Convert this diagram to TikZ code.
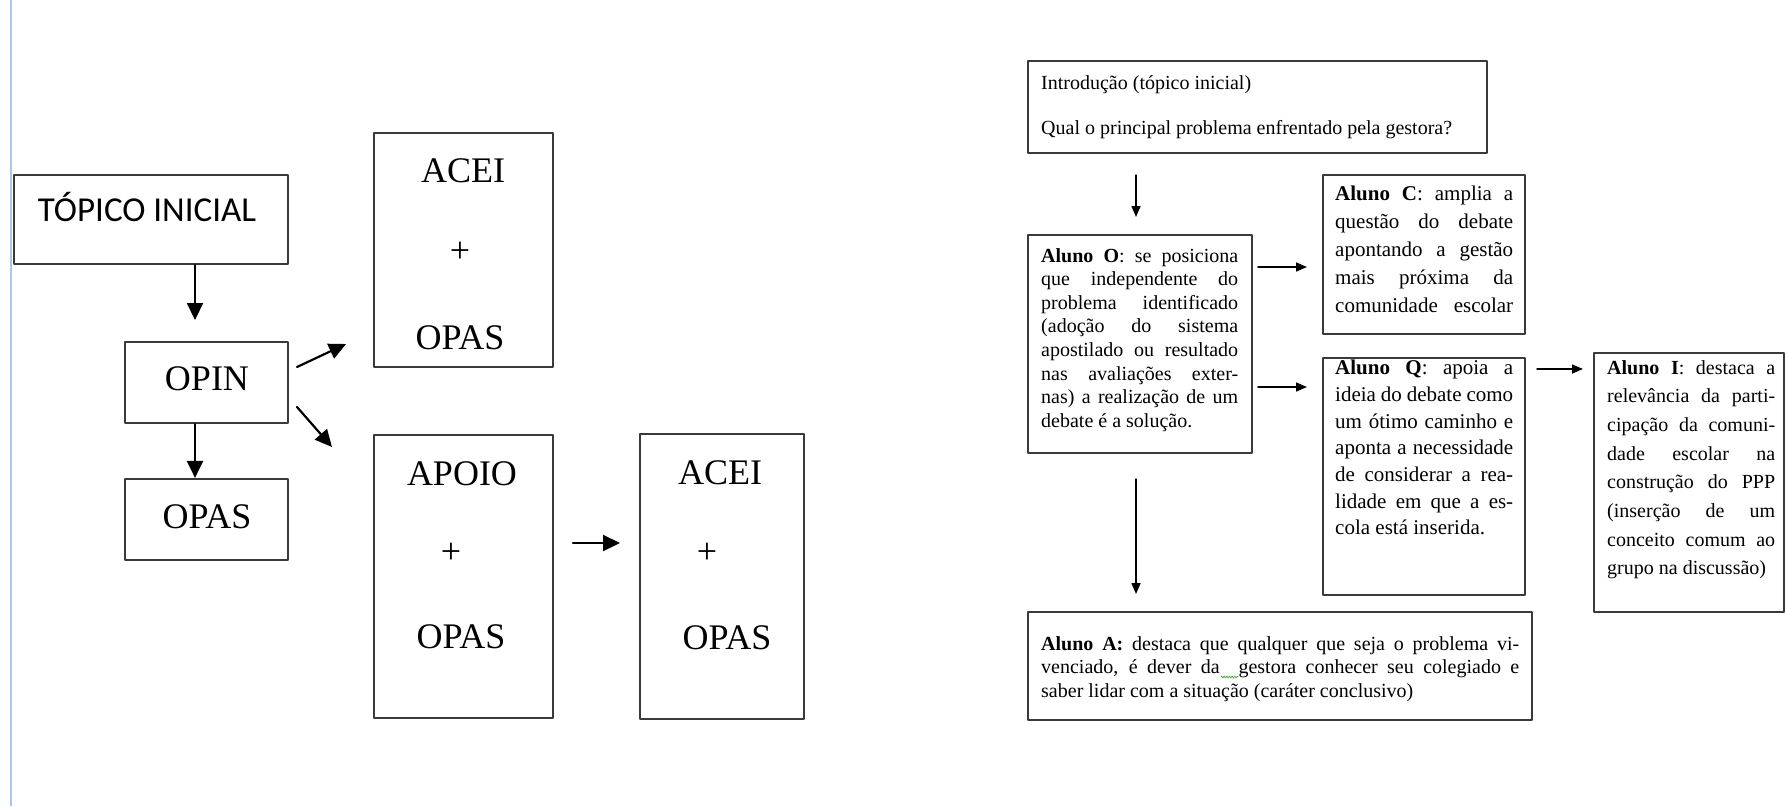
\documentclass[tikz,border=0pt]{standalone}
\usepackage{fontspec}
\setmainfont{Liberation Serif}
\newfontfamily\calibri{Carlito}
\usepackage{tikz}
\usetikzlibrary{arrows.meta}
\usetikzlibrary{decorations.pathmorphing}
\definecolor{azul}{RGB}{168,200,240}
\definecolor{contorno}{RGB}{58,58,58}
\definecolor{verde}{RGB}{70,170,70}
\hyphenpenalty=10000

\begin{document}
\begin{tikzpicture}
    [line cap=round,line join=round,x=1pt,y=-1pt,
     caixa/.style={draw=contorno,line width=2.2pt,inner sep=0pt},
     caixinha/.style={draw=contorno,line width=1.8pt,inner sep=0pt},
     seta/.style={-{Triangle[length=17pt,width=16pt]},line width=2.2pt},
     setinha/.style={-{Triangle[length=11pt,width=9pt]},line width=1.5pt},
     grande/.style={anchor=base,inner sep=0pt,font=\fontsize{36}{40}\selectfont},
     paragrafo/.style={anchor=north west,inner sep=0pt,align=justify}]
\useasboundingbox (0,0) rectangle (1787,806);
\fill[white] (0,0) rectangle (1787,806);
%margin line
\draw[azul,line width=2pt,line cap=butt] (11,0) -- (11,806);

%left scheme: boxes
\node[caixa,minimum width=274pt,minimum height=89pt] (topico) at (151,219.5) {};
\node[caixa,minimum width=163pt,minimum height=81pt] (opin) at (206.5,382.5) {};
\node[caixa,minimum width=163pt,minimum height=81pt] (opas) at (206.5,519.5) {};
\node[caixa,minimum width=179pt,minimum height=234pt] (acei) at (463.5,250) {};
\node[caixa,minimum width=179pt,minimum height=283pt] (apoio) at (463.5,576.5) {};
\node[caixa,minimum width=164pt,minimum height=285pt] (aceidois) at (722,576.5) {};

%left scheme: texts
\node[grande,font=\calibri\fontsize{35}{40}\selectfont] (topicoT) at (147,221) {TÓPICO INICIAL};
\node[grande] (opinT) at (207,390) {OPIN};
\node[grande] (opasT) at (207,528) {OPAS};
\node[grande] (aceiT) at (463,182) {ACEI};
\node[grande] (aceiM) at (460,262) {+};
\node[grande] (aceiB) at (460,349) {OPAS};
\node[grande] (apoioT) at (462,485) {APOIO};
\node[grande] (apoioM) at (451,563) {+};
\node[grande] (apoioB) at (461,648) {OPAS};
\node[grande] (aceidoisT) at (720,484) {ACEI};
\node[grande] (aceidoisM) at (707,563) {+};
\node[grande] (aceidoisB) at (727,649) {OPAS};

%left scheme: arrows
\coordinate (f1) at (195,320);
\draw[seta] (topico.south -| f1) -- (f1);
\draw[seta] (opin.south -| f1) -- (opas.north -| f1);
\coordinate (f2a) at (297,367);
\coordinate (f2b) at (346,344);
\draw[seta] (f2a) -- (f2b);
\coordinate (f3a) at (297,407);
\coordinate (f3b) at (332,447);
\draw[seta] (f3a) -- (f3b);
\coordinate (f4a) at (573,543);
\coordinate (f4b) at (620,543);
\draw[seta] (f4a) -- (f4b);

%right scheme: boxes
\node[caixinha,minimum width=459pt,minimum height=92pt] (intro) at (1257.5,107) {};
\node[caixinha,minimum width=224pt,minimum height=218pt] (alunoO) at (1140,344) {};
\node[caixinha,minimum width=202pt,minimum height=159pt] (alunoC) at (1424,254.5) {};
\node[caixinha,minimum width=202pt,minimum height=237pt] (alunoQ) at (1424,476.5) {};
\node[caixinha,minimum width=190pt,minimum height=259pt] (alunoI) at (1689,482.5) {};
\node[caixinha,minimum width=504pt,minimum height=108pt] (alunoA) at (1280,666) {};

%right scheme: texts
\node[anchor=north west,inner sep=0pt,align=left,font=\fontsize{20}{45}\selectfont] (introT) at (1041,75)
  {Introdução (tópico inicial)\\Qual o principal problema enfrentado pela gestora?};
\node[paragrafo,text width=197pt,font=\fontsize{20}{23.6}\selectfont] (alunoOT) at (1041,248)
  {\textbf{Aluno O}: se posiciona\linebreak que independente do\linebreak problema identificado\linebreak (adoção do sistema\linebreak apostilado ou resultado\linebreak nas avaliações exter-\linebreak nas) a realização de um\linebreak debate é a solução.};
\node[paragrafo,text width=178pt,font=\fontsize{21}{28}\selectfont] (alunoCT) at (1335,186)
  {\textbf{Aluno C}: amplia a\linebreak questão do debate\linebreak apontando a gestão\linebreak mais próxima da\linebreak comunidade escolar\parfillskip=0pt\par};
\node[paragrafo,text width=178pt,font=\fontsize{21}{26.7}\selectfont] (alunoQT) at (1335,360)
  {\textbf{Aluno Q}: apoia a\linebreak ideia do debate como\linebreak um ótimo caminho e\linebreak aponta a necessidade\linebreak de considerar a rea-\linebreak lidade em que a es-\linebreak cola está inserida.};
\node[paragrafo,text width=168pt,font=\fontsize{20}{28.7}\selectfont] (alunoIT) at (1607,360)
  {\textbf{Aluno I}: destaca a\linebreak relevância da parti-\linebreak cipação da comuni-\linebreak dade escolar na\linebreak construção do PPP\linebreak (inserção de um\linebreak conceito comum ao\linebreak grupo na discussão)};
\node[paragrafo,text width=478pt,font=\fontsize{20}{23.5}\selectfont] (alunoAT) at (1041,636)
  {\textbf{Aluno A:} destaca que qualquer que seja o problema vi-\linebreak venciado, é dever da\ \ gestora conhecer seu colegiado e\linebreak saber lidar com a situação (caráter conclusivo)};
%spelling mark under the double space
\draw[verde,line width=0.7pt,decorate,decoration={zigzag,amplitude=1pt,segment length=2.6pt}] (1221,677) -- (1238,677);

%right scheme: arrows
\coordinate (g1a) at (1136,175);
\coordinate (g1b) at (1136,217);
\draw[setinha] (g1a) -- (g1b);
\coordinate (g2a) at (1258,267);
\coordinate (g2b) at (1307,267);
\draw[setinha] (g2a) -- (g2b);
\coordinate (g3a) at (1258,387);
\coordinate (g3b) at (1307,387);
\draw[setinha] (g3a) -- (g3b);
\coordinate (g4a) at (1537,369);
\coordinate (g4b) at (1583,369);
\draw[setinha] (g4a) -- (g4b);
\coordinate (g5a) at (1136,479);
\coordinate (g5b) at (1136,594);
\draw[setinha] (g5a) -- (g5b);
\end{tikzpicture}
\end{document}
